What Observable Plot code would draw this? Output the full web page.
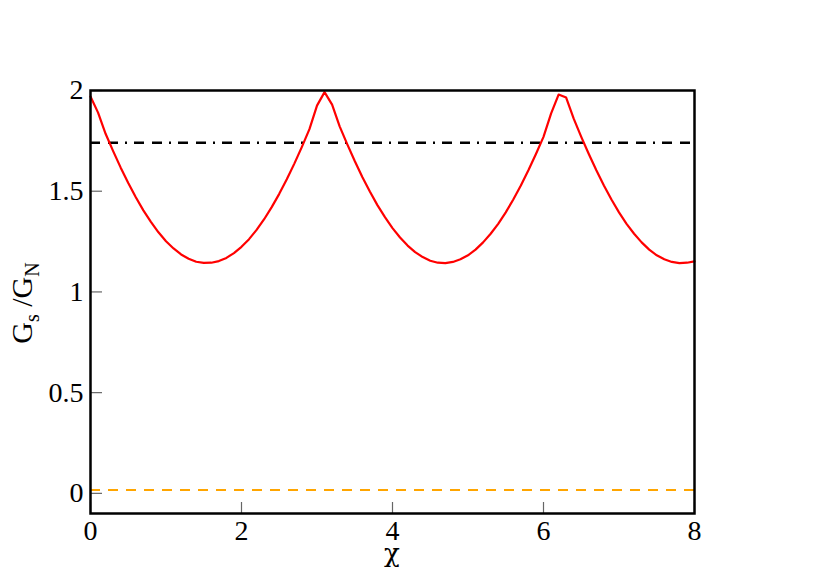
<!DOCTYPE html>
<html><head><meta charset="utf-8">
<script src="https://cdn.jsdelivr.net/npm/d3@7"></script>
<script src="https://cdn.jsdelivr.net/npm/@observablehq/plot@0.6"></script>
<style>
body{margin:0;background:#fff} svg{display:block}
g[aria-label="x-axis tick label"], g[aria-label="y-axis tick label"] {font-size: 28px; font-family: 'Liberation Serif', 'Times New Roman', serif;}
</style>
</head><body><div id="chart"></div>
<script>
const chi = [0,0.1,0.2,0.3,0.4,0.5,0.6,0.7,0.8,0.9,1.0,1.1,1.2,1.3,1.4,1.5,1.6,1.7,1.8,1.9,
  2.0,2.1,2.2,2.3,2.4,2.5,2.6,2.7,2.8,2.9,3.0,3.1,3.2,3.3,3.4,3.5,3.6,3.7,3.8,3.9,
  4.0,4.1,4.2,4.3,4.4,4.5,4.6,4.7,4.8,4.9,5.0,5.1,5.2,5.3,5.4,5.5,5.6,5.7,5.8,5.9,
  6.0,6.1,6.2,6.3,6.4,6.5,6.6,6.7,6.8,6.9,7.0,7.1,7.2,7.3,7.4,7.5,7.6,7.7,7.8,7.9,8.0];
const gsOverGn = [1.970,1.890,1.785,1.699,1.617,1.541,1.470,1.405,1.348,1.296,1.252,1.216,1.186,1.165,1.150,1.144,1.145,1.153,1.169,1.193,
  1.224,1.262,1.308,1.361,1.421,1.487,1.559,1.637,1.720,1.808,1.925,1.992,1.930,1.822,1.734,1.650,1.571,1.499,1.431,1.371,
  1.317,1.270,1.230,1.198,1.173,1.155,1.145,1.143,1.149,1.162,1.182,1.210,1.246,1.289,1.338,1.395,1.459,1.528,1.604,1.685,
  1.770,1.885,1.980,1.965,1.860,1.770,1.685,1.604,1.528,1.459,1.395,1.338,1.289,1.246,1.210,1.182,1.162,1.149,1.143,1.145,1.152];
const dashDotLevel = [1.74];
const orangeLevel = [0.017];
const xTicks = [0, 2, 4, 6, 8];
const yTicks = [0, 0.5, 1, 1.5, 2];
const yTickLabels = ["0", "0.5", "1", "1.5", "2"];
const xLabel = "χ";

const data = chi.map((c, i) => ({chi: c, g: gsOverGn[i]}));
const W = 830, H = 587, mt = 90, mb = 74, ml = 90, mr = 136;
const plotH = H - mt - mb, plotW = W - ml - mr;
const serif = "'Liberation Serif', 'Times New Roman', serif";

const chart = Plot.plot({
  width: W, height: H,
  marginTop: mt, marginBottom: mb, marginLeft: ml, marginRight: mr,
  style: {fontFamily: serif, fontSize: "28px", background: "white", color: "black"},
  x: {domain: [0, 8]},
  y: {domain: [-0.1, 2]},
  marks: [
    Plot.ruleY(orangeLevel, {stroke: "#ffa500", strokeWidth: 2, strokeDasharray: "10,8"}),
    Plot.ruleY(dashDotLevel, {stroke: "black", strokeWidth: 2.5, strokeDasharray: "10,8,10,7,2,7"}),
    Plot.line(data, {x: "chi", y: "g", stroke: "red", strokeWidth: 2.2}),
    Plot.tickX(xTicks, {x: d => d, stroke: "#666", strokeWidth: 1.2, insetTop: plotH - 11}),
    Plot.tickY(yTicks, {y: d => d, stroke: "#666", strokeWidth: 1.2, insetRight: plotW - 12}),
    Plot.axisX({ticks: xTicks, tickSize: 0, tickPadding: 7, label: null, fontSize: 28}),
    Plot.axisY({ticks: yTicks, tickFormat: (d, i) => yTickLabels[i], tickSize: 0, tickPadding: 7, label: null, fontSize: 28}),
    Plot.frame({stroke: "black", strokeWidth: 2.5})
  ]
});
document.getElementById("chart").appendChild(chart);

const svg = d3.select(chart);
const yl = svg.append("text")
  .attr("transform", "translate(32,303) rotate(-90)")
  .attr("text-anchor", "middle")
  .attr("fill", "black")
  .style("font-family", serif)
  .style("font-size", "30px");
yl.append("tspan").text("G");
yl.append("tspan").attr("dy", 7).style("font-size", "20px").text("s");
yl.append("tspan").attr("dy", -7).text(" /G");
yl.append("tspan").attr("dy", 7).style("font-size", "20px").text("N");

svg.append("text")
  .attr("x", 392).attr("y", 562)
  .attr("text-anchor", "middle")
  .attr("fill", "black")
  .style("font-family", "'DejaVu Serif', serif")
  .style("font-size", "26px")
  .text(xLabel);
</script>
</body></html>
